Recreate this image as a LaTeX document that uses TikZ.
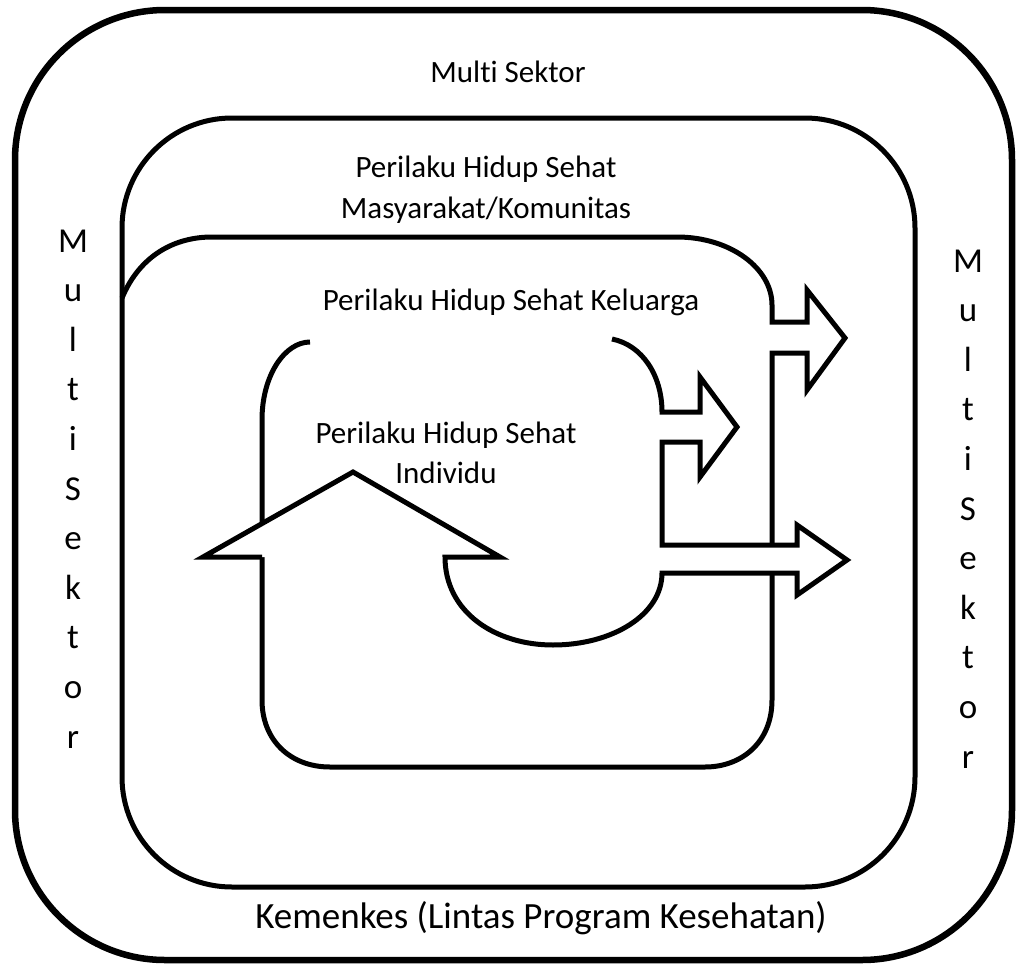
\documentclass[tikz,border=0pt]{standalone}
\usepackage{fontspec}
\setmainfont{Carlito}[Ligatures=NoCommon]
\begin{document}
\begin{tikzpicture}[x=1pt,y=-1pt,
  outerline/.style={line width=6.5pt},
  ring/.style={line width=5pt, line join=miter},
  txt/.style={anchor=base, inner sep=0pt, font=\fontsize{31}{31}\selectfont},
  bigtxt/.style={anchor=base, inner sep=0pt, font=\fontsize{37}{37}\selectfont},
  vtxt/.style={anchor=base, inner sep=0pt, font=\fontsize{35}{35}\selectfont}]
\useasboundingbox (0,0) rectangle (1018,964);
% outer: Multi Sektor
\draw[outerline, rounded corners=150] (15,10) rectangle (1012,960);
% Masyarakat / Komunitas
\draw[ring, rounded corners=110] (122,118) rectangle (915,887);
% Keluarga
\draw[ring] (122,298) .. controls (140,255) and (175,237) .. (212,237)
  -- (677,237) .. controls (730,237) and (772,268) .. (772,305)
  -- (772,322) -- (807,322) -- (807,290) -- (845,338) -- (807,390)
  -- (807,353) -- (772,353) -- (772,700)
  .. controls (772,742) and (742,767) .. (705,767)
  -- (330,767) .. controls (290,767) and (262,740) .. (262,700)
  -- (262,420) .. controls (262,375) and (285,342) .. (310,342);
% white fills under the Individu arrows
\fill[white] (662,545) -- (797,545) -- (797,525) -- (847,560) -- (797,595) -- (797,573) -- (662,573) -- cycle;
\fill[white] (203,557) -- (353,472) -- (500,557) -- cycle;
% Individu
\draw[ring] (612,339) .. controls (642,345) and (662,375) .. (662,412)
  -- (700,412) -- (700,377) -- (737,427) -- (700,477) -- (700,442)
  -- (662,442) -- (662,545) -- (797,545) -- (797,525) -- (847,560)
  -- (797,595) -- (797,573) -- (662,573)
  .. controls (662,615) and (612,645) .. (553,645)
  .. controls (495,645) and (445,612) .. (445,557)
  -- (500,557) -- (353,472) -- (203,557) -- (262,557);
% texts
\node[txt] (ms) at (508,82) {Multi Sektor};
\node[txt] (m1) at (486,177) {Perilaku Hidup Sehat};
\node[txt] (m2) at (486,218) {Masyarakat/Komunitas};
\node[txt] (kel) at (511,310) {Perilaku Hidup Sehat Keluarga};
\node[txt] (i1) at (446,443) {Perilaku Hidup Sehat};
\node[txt] (i2) at (446,483) {Individu};
\node[bigtxt] (kem) at (541,928) {Kemenkes (Lintas Program Kesehatan)};
\foreach \c [count=\i from 0] in {M,u,l,t,i,S,e,k,t,o,r} {
  \node[vtxt] (L\i) at (73,252+49.6*\i) {\c};
  \node[vtxt] (R\i) at (968,272+49.6*\i) {\c};
}
\end{tikzpicture}
\end{document}
